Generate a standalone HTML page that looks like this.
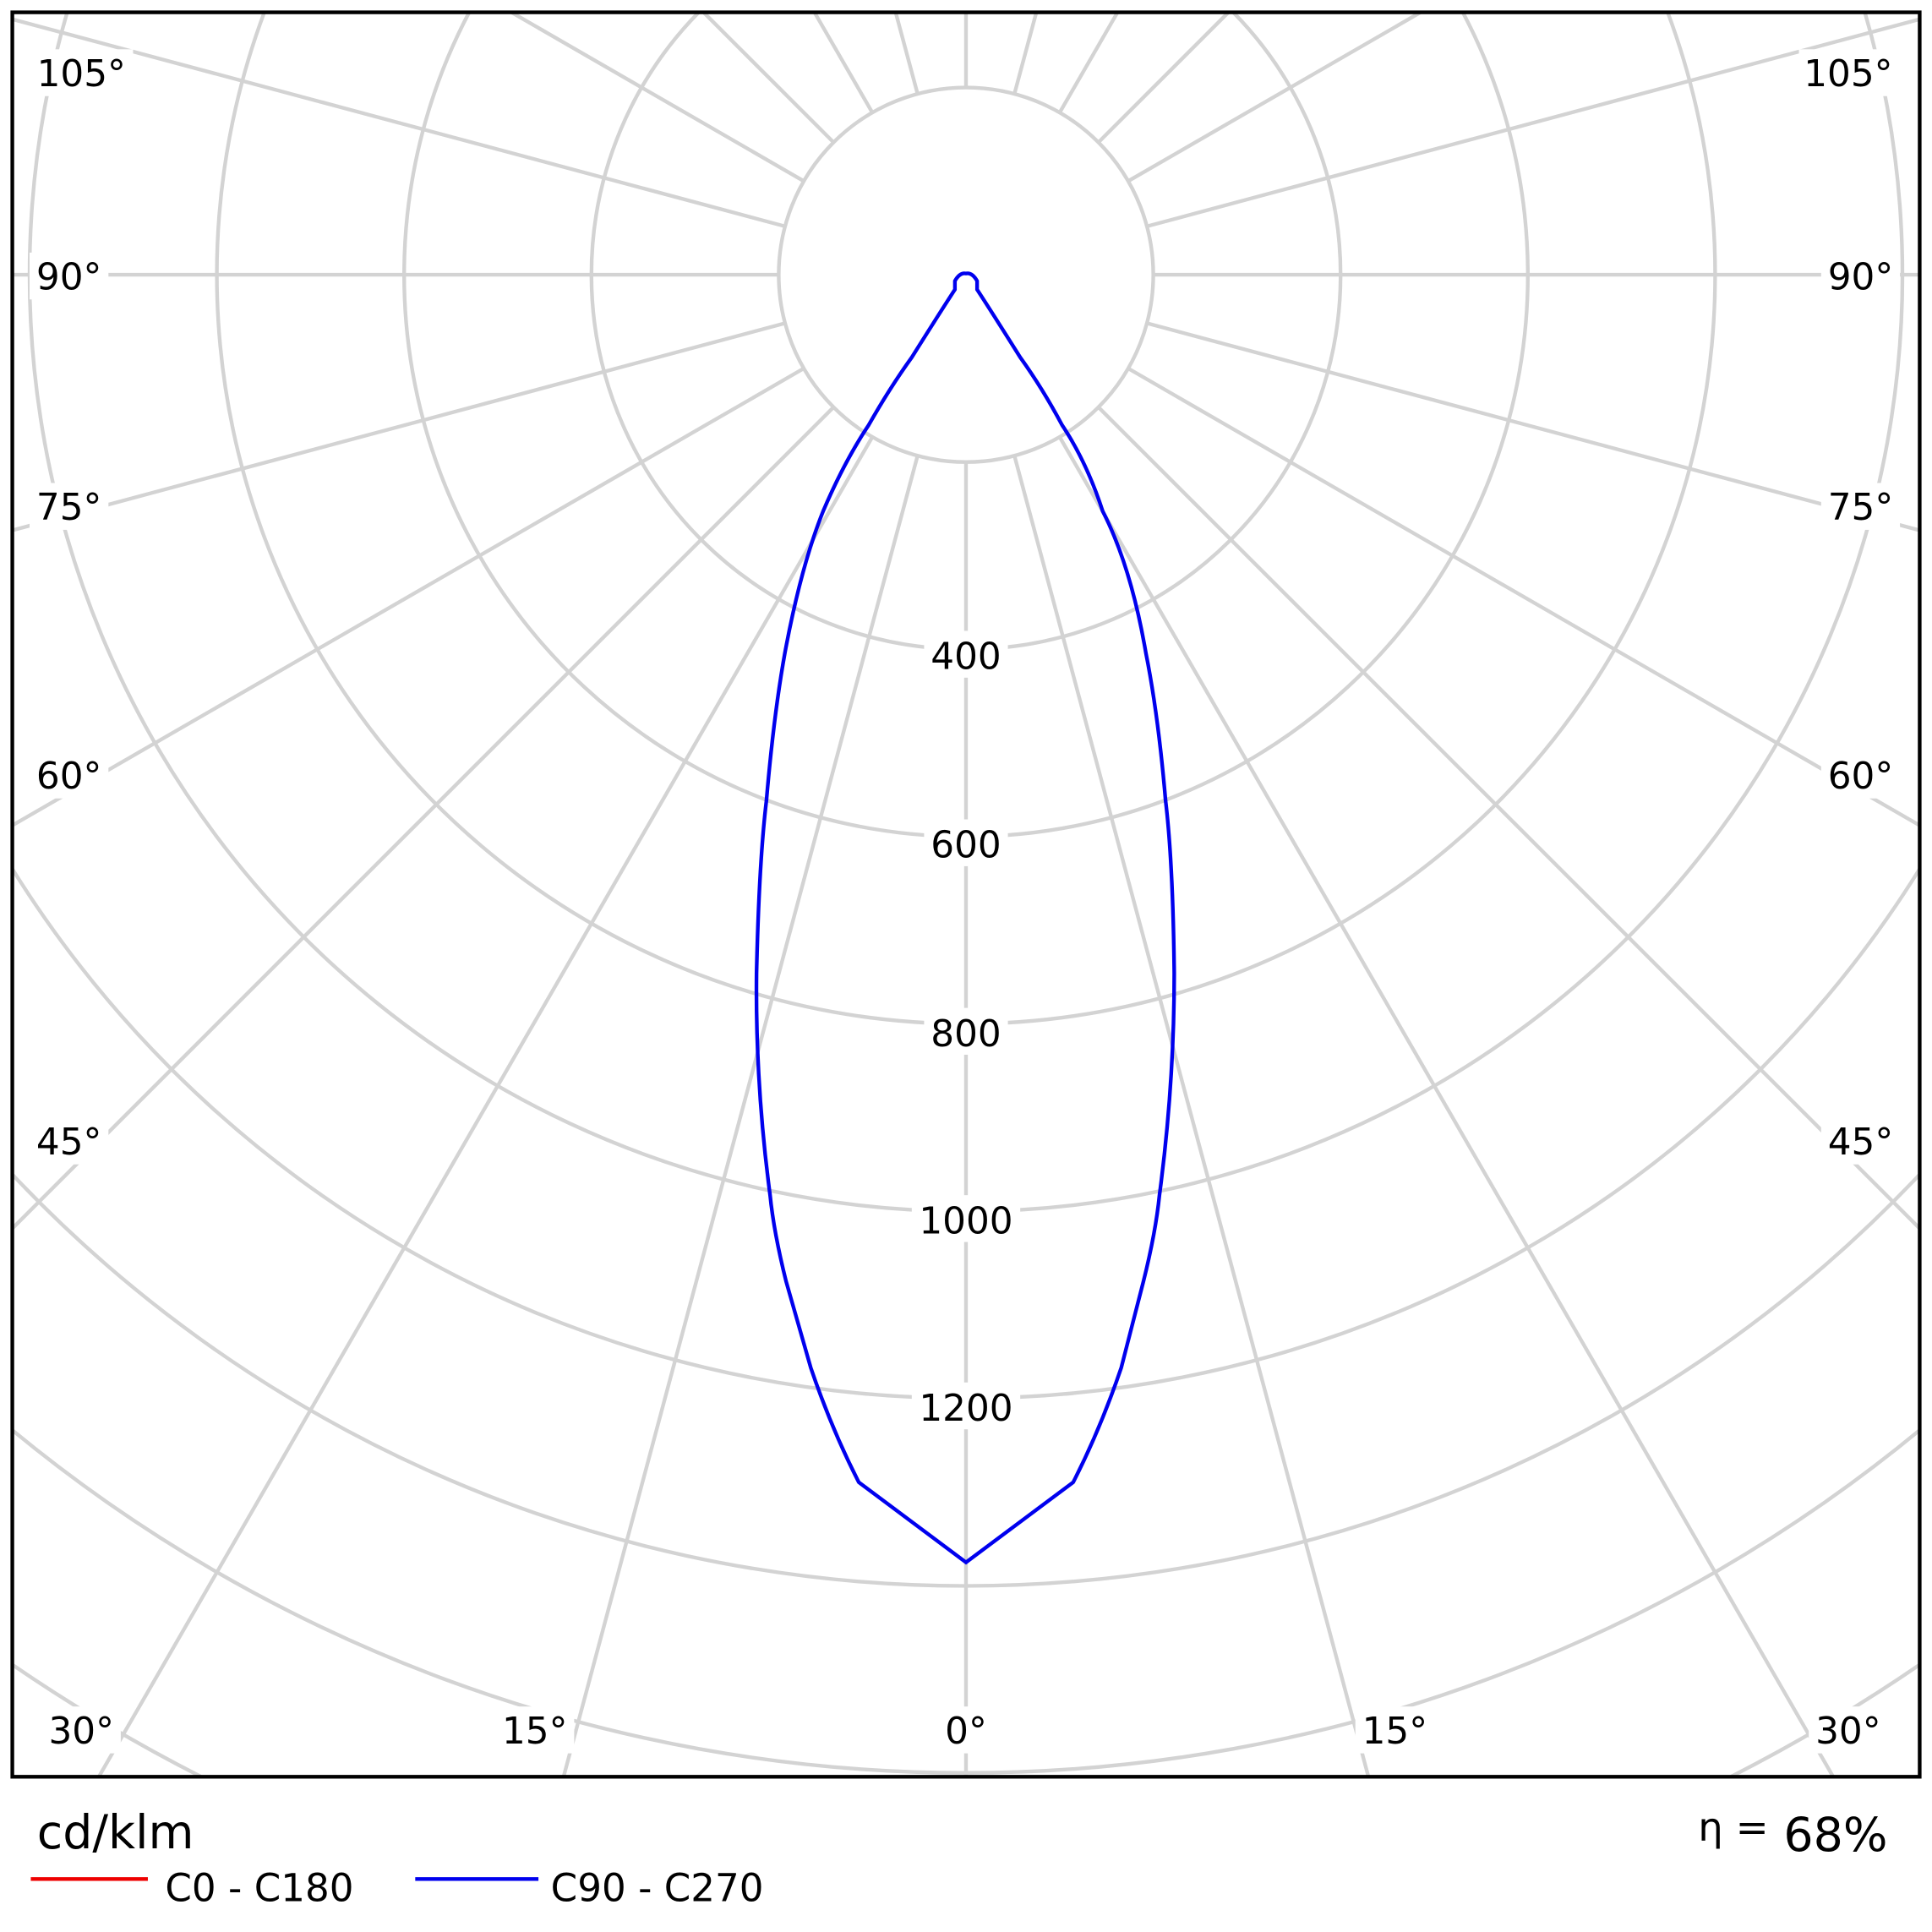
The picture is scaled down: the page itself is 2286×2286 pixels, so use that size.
<!DOCTYPE html>
<html><head><style>html,body{margin:0;padding:0;background:#fff;width:2286px;height:2286px;overflow:hidden}svg{display:block}</style></head>
<body>
<svg width="2286" height="2286" viewBox="0 0 1568 1568" xmlns="http://www.w3.org/2000/svg" font-family="'DejaVu Sans','Liberation Sans',sans-serif">
<rect width="1568" height="1568" fill="#fff"/>
<g stroke="#d3d3d3" stroke-width="3" fill="none">
<circle cx="784" cy="223" r="152"/>
<path d="M567.1,10 A304,304 0 1 0 1000.9,10"/>
<path d="M380.8,10 A456,456 0 1 0 1187.2,10"/>
<path d="M214.5,10 A608,608 0 1 0 1353.5,10"/>
<path d="M54.5,10 A760,760 0 1 0 1513.5,10"/>
<path d="M10,705.2 A912,912 0 0 0 1558,705.2"/>
<path d="M10,953.2 A1064,1064 0 0 0 1558,953.2"/>
<path d="M10,1160.7 A1216,1216 0 0 0 1558,1160.7"/>
<path d="M10,1351 A1368,1368 0 0 0 163.3,1442"/>
<path d="M1404.7,1442 A1368,1368 0 0 0 1558,1351"/>
<line x1="784" y1="375" x2="784" y2="1442"/>
<line x1="823.3" y1="369.8" x2="1110.6" y2="1442"/>
<line x1="860" y1="354.6" x2="1487.8" y2="1442"/>
<line x1="891.5" y1="330.5" x2="1558" y2="997"/>
<line x1="915.6" y1="299" x2="1558" y2="669.9"/>
<line x1="930.8" y1="262.3" x2="1558" y2="430.4"/>
<line x1="936" y1="223" x2="1558" y2="223"/>
<line x1="930.8" y1="183.7" x2="1558" y2="15.6"/>
<line x1="915.6" y1="147" x2="1152.9" y2="10"/>
<line x1="891.5" y1="115.5" x2="997" y2="10"/>
<line x1="860" y1="91.4" x2="907" y2="10"/>
<line x1="823.3" y1="76.2" x2="841.1" y2="10"/>
<line x1="784" y1="71" x2="784" y2="10"/>
<line x1="744.7" y1="369.8" x2="457.4" y2="1442"/>
<line x1="708" y1="354.6" x2="80.2" y2="1442"/>
<line x1="676.5" y1="330.5" x2="10" y2="997"/>
<line x1="652.4" y1="299" x2="10" y2="669.9"/>
<line x1="637.2" y1="262.3" x2="10" y2="430.4"/>
<line x1="632" y1="223" x2="10" y2="223"/>
<line x1="637.2" y1="183.7" x2="10" y2="15.6"/>
<line x1="652.4" y1="147" x2="415.1" y2="10"/>
<line x1="676.5" y1="115.5" x2="571" y2="10"/>
<line x1="708" y1="91.4" x2="661" y2="10"/>
<line x1="744.7" y1="76.2" x2="726.9" y2="10"/>
</g>
<g font-size="30" fill="#000" text-anchor="middle">
<g fill="#fff"><rect x="750" y="512" width="68" height="38"/><rect x="750" y="665" width="68" height="38"/><rect x="750" y="818" width="68" height="38"/><rect x="740" y="970" width="88" height="38"/><rect x="740" y="1122" width="88" height="38"/></g>
<text x="784" y="543">400</text><text x="784" y="696">600</text><text x="784" y="849">800</text><text x="784" y="1001">1000</text><text x="784" y="1153">1200</text>
<g fill="#fff"><rect x="24" y="40" width="84" height="38"/><rect x="24" y="205" width="64" height="38"/><rect x="24" y="392" width="64" height="38"/><rect x="24" y="610" width="64" height="38"/><rect x="24" y="907" width="64" height="38"/><rect x="34" y="1385" width="64" height="38"/><rect x="402" y="1385" width="64" height="38"/><rect x="760" y="1385" width="48" height="38"/><rect x="1100" y="1385" width="64" height="38"/><rect x="1468" y="1385" width="64" height="38"/><rect x="1460" y="40" width="84" height="38"/><rect x="1478" y="205" width="64" height="38"/><rect x="1478" y="392" width="64" height="38"/><rect x="1478" y="610" width="64" height="38"/><rect x="1478" y="907" width="64" height="38"/></g>
<text x="66" y="70">105°</text><text x="56" y="235">90°</text><text x="56" y="422">75°</text><text x="56" y="640">60°</text><text x="56" y="937">45°</text>
<text x="66" y="1415">30°</text><text x="434" y="1415">15°</text><text x="784" y="1415">0°</text><text x="1132" y="1415">15°</text><text x="1500" y="1415">30°</text>
<text x="1500" y="70">105°</text><text x="1510" y="235">90°</text><text x="1510" y="422">75°</text><text x="1510" y="640">60°</text><text x="1510" y="937">45°</text>
</g>
<path d="M784,1268 L697,1203 Q675,1160 658,1110 L638,1040 Q628,1000 625,970 Q613,880 614,790 Q616,700 622,650 Q628,580 637,530 Q650,460 668,415 Q685,375 705,345 Q722,315 740,290 Q762,255 775,235 L775,228 Q779,221 784,222 Q789,221 793,228 L793,235 Q806,255 828,290 Q846,315 862,345 Q882,375 895,415 Q918,460 930,530 Q940,580 946,650 Q952,700 953,790 Q953,880 941,970 Q938,1000 928,1040 L910,1110 Q893,1160 871,1203 Z" fill="none" stroke="#0000ee" stroke-width="3"/>
<rect x="10" y="10" width="1548" height="1432" fill="none" stroke="#000" stroke-width="3"/>
<text x="30" y="1500" font-size="38">cd/klm</text>
<line x1="25" y1="1525" x2="120" y2="1525" stroke="#e00" stroke-width="3"/>
<text x="134" y="1543" font-size="31">C0 - C180</text>
<line x1="337" y1="1525" x2="437" y2="1525" stroke="#00e" stroke-width="3"/>
<text x="447" y="1543" font-size="31">C90 - C270</text>
<text x="1532" y="1502" font-size="38" text-anchor="end"><tspan font-size="32" dy="-8">η =</tspan><tspan dy="8"> 68%</tspan></text>
</svg>
</body></html>
